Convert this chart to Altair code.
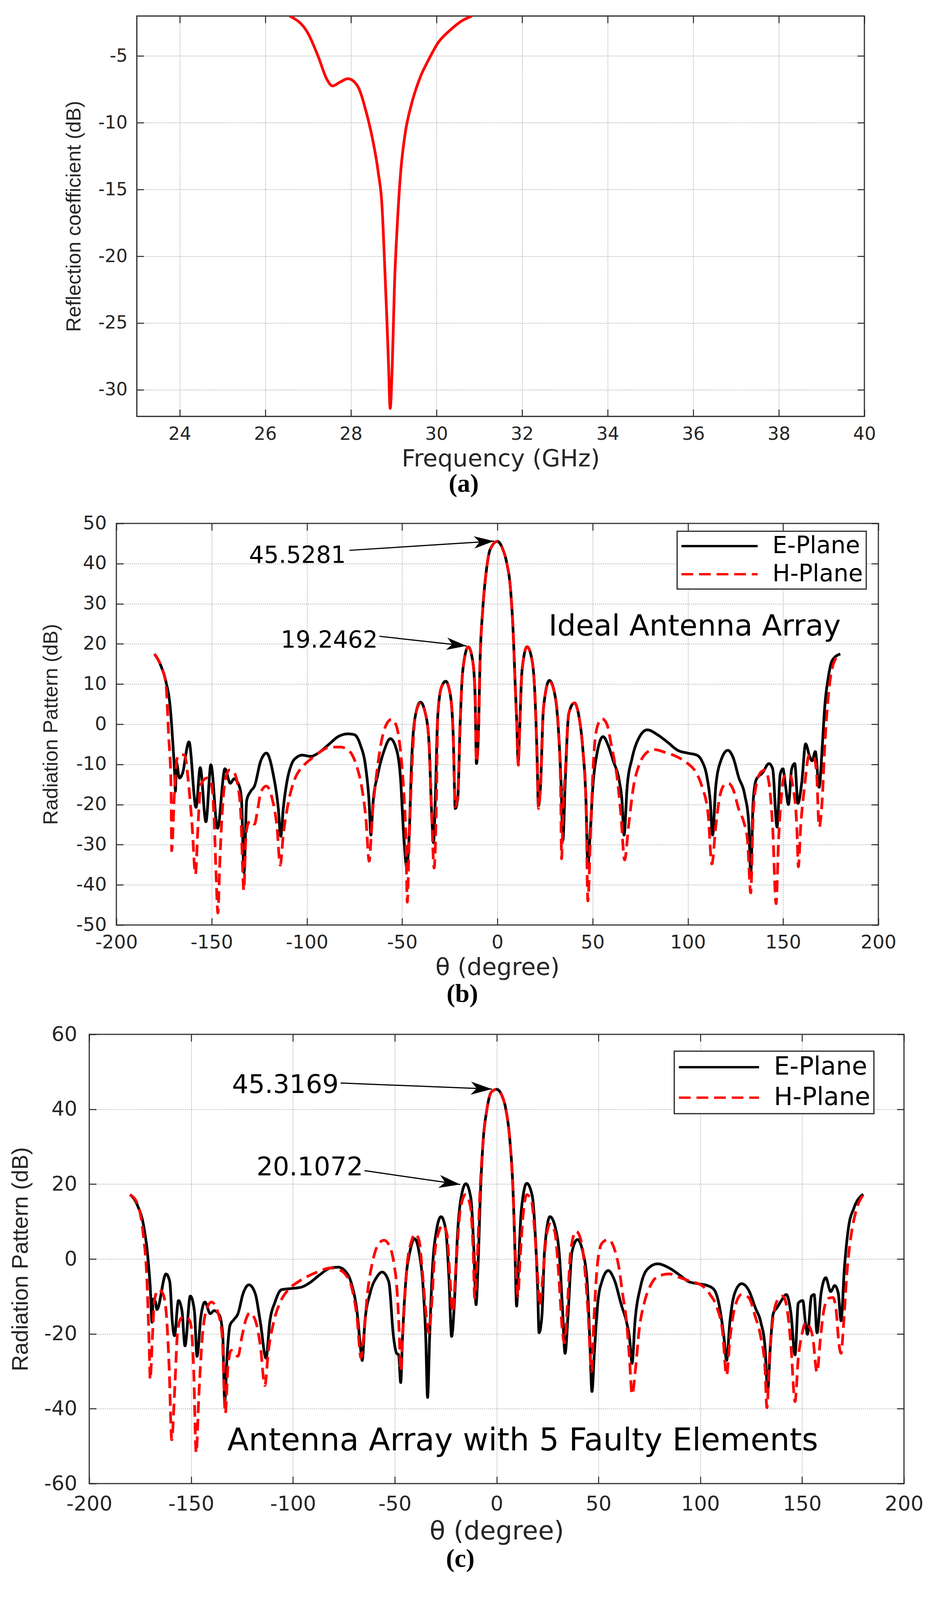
import math
import altair as alt
import pandas as pd

# ---------------- (a) reflection coefficient ----------------
A_FREQ = [26.57, 27.0, 27.24, 27.45, 27.57, 27.75, 27.93, 28.15, 28.36, 28.5, 28.64, 28.73,
          28.78, 28.84, 28.88, 28.92, 28.97, 29.02, 29.09, 29.16, 29.27, 29.41, 29.62, 29.83,
          30.04, 30.32, 30.6, 30.83]
A_S11 = [-2.0, -3.3, -5.05, -6.8, -7.24, -6.95, -6.7, -7.2, -9.2, -11.1, -13.7, -16.3,
         -19.8, -24.5, -28.0, -31.4, -28.0, -22.2, -17.4, -13.9, -10.8, -8.7, -6.6, -5.2,
         -4.0, -3.06, -2.35, -2.0]
A_XDOM = [23, 40]
A_YDOM = [-32, -2]
A_XTICKS = [24, 26, 28, 30, 32, 34, 36, 38, 40]
A_YTICKS = [-30, -25, -20, -15, -10, -5]

# ---------------- (b) ideal antenna array ----------------
B_E = [(-180, 17.5), (-176.6, 14.5), (-174, 10.6), (-171.7, 4.0), (-170.4, -4.5), (-169.4, -12.4),
       (-169, -16.7), (-168.5, -9.5), (-166.9, -13.4), (-165.4, -12.4), (-161.9, -4.4), (-158.2, -20.7),
       (-156, -10.8), (-153, -24.3), (-150.4, -10.1), (-146.9, -25.9), (-143, -11.1), (-140.2, -14.7),
       (-138.2, -13.6), (-135.3, -15.7), (-134.3, -19), (-133.0, -37), (-131.6, -19), (-129.5, -16.7),
       (-127.5, -15.4), (-124.2, -9.1), (-121.2, -7.2), (-117.7, -12.4), (-115, -21), (-113.7, -27.9),
       (-112.4, -21), (-110.5, -14.4), (-107.9, -9.8), (-105.2, -8.2), (-102.6, -7.7), (-98, -8.0),
       (-94.1, -7.2), (-88.9, -5.2), (-83.6, -3.1), (-78.4, -2.4), (-75.1, -2.6), (-71.9, -5.2),
       (-69.2, -10.5), (-67.3, -19.7), (-66.4, -27.6), (-65.3, -19.7), (-62.7, -12.4), (-59.4, -6.5),
       (-56.2, -3.6), (-53.5, -5.5), (-50.9, -13.1), (-49.3, -26.6), (-47.6, -35.5), (-46.3, -27.6),
       (-45, -9.1), (-43.1, 2.0), (-40.4, 5.5), (-37.8, 2.7), (-35.9, -4.5), (-34.6, -21), (-33.5, -29.5),
       (-32.6, -19), (-31.3, 2.0), (-29.3, 9.3), (-27.1, 10.7), (-24.7, 7.3), (-23.2, -2.6), (-22.1, -21),
       (-20.8, -18.4), (-19.5, 0.7), (-18.2, 13.2), (-15.3, 19.25), (-13, 15.9), (-11.7, 7.3), (-11, -9.8),
       (-10.1, -4.5), (-9, 17.2), (-7.7, 28.4), (-5.8, 38.2), (-3.8, 43.5), (0, 45.53),
       (2.9, 43.5), (4.9, 40.2), (6.9, 33.6), (8.2, 23.8), (9.3, 10.6), (10.2, 0), (10.9, -9.5),
       (11.6, -2.6), (12.9, 13.2), (15.6, 19.3), (18.2, 15.9), (19.5, 9.3), (20.9, -9.1), (21.5, -20.3),
       (22.6, -15.7), (24.2, 4.0), (27.3, 10.9), (30.2, 7.3), (32.2, -2.6), (33.5, -15.7), (34.4, -28.9),
       (35.5, -15.7), (37.5, 2.7), (40.4, 5.3), (42.8, 2.0), (44.8, -5.9), (46.5, -19), (47.5, -35.5),
       (48.8, -26.3), (50.1, -15.7), (52.1, -7.8), (55.5, -3.1), (58.1, -5.2), (60.8, -9.1), (64.1, -14.4),
       (65.4, -19), (66.5, -27.6), (68.1, -15.7), (70.7, -8.5), (74.1, -3.6), (78.7, -1.4), (84, -2.6),
       (89.4, -4.5), (94.7, -6.5), (100, -7.2), (104.7, -7.7), (107.3, -9.1), (110, -13.1), (111.7, -19),
       (113, -27.6), (114.6, -15.7), (117.3, -9.1), (121, -6.5), (123.9, -8.5), (126.6, -13.1),
       (129.9, -17.7), (131.9, -24.3), (133, -37), (134.3, -19), (135.9, -13.8), (139.2, -12.1),
       (142.6, -9.8), (144.5, -11.1), (146.8, -25.6), (148.5, -12.4), (149.9, -11.1), (151.2, -15.1),
       (152.8, -20), (154.5, -11.1), (156.1, -9.8), (157.8, -19.7), (159.8, -14.4), (161.8, -4.9),
       (163.8, -7.8), (165.2, -9.1), (166.9, -6.8), (168.9, -15.7), (170.5, -5.9), (171.8, 4.0),
       (173.8, 11.9), (175.8, 15.9), (180, 17.5)]
B_H = [(-180, 17.5), (-176.6, 14.5), (-174, 10), (-172.6, -2.6), (-171.3, -15.7), (-171, -31.5),
       (-169.4, -15.7), (-168.1, -8.5), (-166.1, -7.5), (-164.1, -7.8), (-162.2, -14.4), (-160.2, -25.6),
       (-158.5, -37.4), (-157.2, -25.6), (-155.9, -15.7), (-154.6, -14.1), (-152.4, -13.4), (-150.4, -14.4),
       (-148.8, -22.3), (-147.8, -35.5), (-146.7, -47), (-145.8, -35.5), (-144.5, -22.3), (-142.5, -13.1),
       (-140.6, -11.4), (-138.6, -11.8), (-136.6, -14.4), (-134.7, -22.3), (-133.1, -41.4), (-132.1, -28.9),
       (-131, -24.9), (-129.5, -24), (-127.5, -24.9), (-126.2, -22.3), (-124.2, -17), (-121.3, -15.4),
       (-118.3, -18.4), (-115.7, -25.6), (-114, -35.1), (-112.4, -27.6), (-109.8, -19.7), (-106.5, -13.8),
       (-103.3, -11.1), (-100, -9.5), (-96.7, -8.2), (-92.8, -6.8), (-87.6, -5.7), (-82.3, -5.7),
       (-79.1, -6.2), (-76.4, -7.5), (-73.8, -10.5), (-71.2, -15.7), (-69, -23.6), (-67.3, -34.1),
       (-65.6, -22.3), (-63.4, -12.4), (-60.7, -3.9), (-58.1, 0.1), (-55.5, 1.25), (-52.9, -0.6),
       (-50.9, -6.5), (-49.3, -15.7), (-48, -28.9), (-47.3, -44.3), (-46.3, -28.9), (-45, -12.4),
       (-43.1, 2.0), (-40.4, 5.3), (-37.8, 2.7), (-35.9, -4.5), (-34.6, -21), (-33.2, -35.8), (-32, -19),
       (-31.3, 2.0), (-29.3, 9.3), (-27.1, 10.5), (-24.7, 7.3), (-23.2, -2.6), (-22.1, -20.5),
       (-20.8, -17.5), (-19.5, 0.7), (-18.2, 13.2), (-15.3, 19.25), (-13, 15.9), (-11.7, 7.3), (-11, -9.5),
       (-10.1, -4.5), (-9, 17.2), (-7.7, 28.4), (-5.8, 38.2), (-3.8, 43.5), (0, 45.53),
       (2.9, 43.5), (4.9, 40.2), (6.9, 33.6), (8.2, 23.8), (9.3, 10.6), (10.2, 0), (11.0, -10.2),
       (11.6, -2.6), (12.9, 13.2), (15.6, 19.3), (18.2, 15.9), (19.5, 9.3), (20.9, -9.1), (21.6, -21),
       (22.6, -15.7), (24.2, 4.0), (27.3, 10.7), (30.2, 7.3), (32.2, -2.6), (33.2, -15.7), (33.7, -33.5),
       (34.6, -20), (35.5, -13), (37.5, 2.7), (40.4, 5.3), (42.8, 2.0), (44.8, -5.9), (46.5, -19),
       (47.5, -44), (48.8, -28.9), (50.1, -12.4), (52.1, -1.25), (54.8, 1.4), (57.4, 0.1), (60.1, -5.9),
       (62.8, -13.1), (64.8, -22.3), (66.8, -33.8), (68.8, -25.6), (71.4, -15.7), (74.7, -9.8),
       (78.1, -7.2), (82, -6.3), (88, -7.0), (94.7, -8.2), (100, -9.8), (104, -11.8), (107.3, -15.4),
       (110.6, -22.3), (112.6, -34.8), (114.6, -25.6), (116.6, -18.4), (118.6, -15.4), (121.3, -14.7),
       (123.9, -16.4), (126.6, -21), (129.3, -24.3), (131.3, -28.9), (133, -42), (134.3, -22.3),
       (135.9, -15.1), (138.6, -11.8), (140.6, -11.4), (142.6, -14.7), (144.5, -25.6), (146.3, -44.7),
       (147.6, -28.9), (149, -18.4), (150.5, -13.1), (153.2, -12.4), (155.2, -15.7), (157.2, -25.6),
       (158, -35.5), (159.2, -25.6), (161.2, -15.7), (163.6, -7.8), (165.9, -7.8), (167.6, -12.4),
       (168.9, -25.6), (170.5, -19), (171.8, -5.9), (173.8, 7.3), (176.5, 15.2), (180, 17.5)]
B_XDOM = [-200, 200]
B_YDOM = [-50, 50]
B_XTICKS = [-200, -150, -100, -50, 0, 50, 100, 150, 200]
B_YTICKS = [-50, -40, -30, -20, -10, 0, 10, 20, 30, 40, 50]
B_NOTES = [("45.5281", -130.4, 40.2), ("19.2462", -113.7, 19.1)]
B_ARROWS = [(-77.7, 43.3, -1.8, 45.6), (-62.0, 21.9, -16.2, 19.5)]
B_LABEL = ("Ideal Antenna Array", 26.9, 22.1)

# ---------------- (c) array with 5 faulty elements ----------------
C_E = [(-180, 17.2), (-176.4, 14.4), (-173.1, 8.2), (-171.2, 0.3), (-169.9, -9.1), (-169.2, -16.9),
       (-168.6, -10.7), (-167.5, -11.5), (-166.8, -13.5), (-162.3, -4.0), (-160.5, -6.0), (-159.2, -16.9),
       (-158.2, -20.5), (-156.2, -11.1), (-154.5, -13.8), (-153, -23.2), (-150.4, -9.9), (-148.4, -13.8),
       (-147.1, -26), (-145.2, -15.4), (-143.2, -11.5), (-140.6, -14.6), (-138.7, -13.8), (-136.1, -15),
       (-134.5, -20.1), (-133.5, -38), (-132.2, -24.8), (-130.9, -17.7), (-129, -16.2), (-127, -14.6),
       (-124.4, -9.1), (-121.6, -6.9), (-118.6, -9.1), (-116, -16.9), (-113.2, -26.5), (-111.4, -16.9),
       (-108.8, -11.5), (-105.6, -8.2), (-101, -7.9), (-95.8, -7.5), (-91.9, -6.4), (-86.8, -4.2),
       (-81.6, -2.4), (-77.7, -2.2), (-74.4, -3.2), (-71.2, -6.7), (-68.6, -13.8), (-66.6, -24.8),
       (-66, -27.1), (-64.7, -16.9), (-62.1, -9.1), (-58.8, -4.8), (-56.2, -3.5), (-53, -6), (-50.6, -20.9),
       (-49.1, -25.2), (-48.1, -25.6), (-47.1, -33), (-46.2, -20.9), (-44.5, -5.2), (-42.6, 1.9),
       (-40.3, 5.4), (-38.1, 1.9), (-36.1, -7.5), (-34.8, -20.9), (-33.9, -37), (-32.9, -20.9),
       (-31.6, -3.6), (-29.6, 7.4), (-27.3, 11.3), (-25.1, 8.2), (-23.4, -5.2), (-22.1, -20.7),
       (-20.5, -9.1), (-19.2, 6.6), (-17.3, 16.8), (-15.1, 20.1), (-12.7, 16.4), (-11.2, 2.7),
       (-10.1, -12.2), (-9.1, -1.3), (-7.9, 18.4), (-6.6, 31.7), (-4.9, 39.5), (-2.6, 44.6), (0, 45.32),
       (2.7, 43.5), (4.7, 39.5), (6.5, 31.7), (8.1, 17.6), (9.1, 0.3), (9.8, -12.6), (10.8, -1.3),
       (12.1, 12.9), (14.8, 20.2), (17.5, 16.8), (18.8, 8.2), (20.2, -9.1), (20.8, -19.7), (22.2, -15.4),
       (23.5, 1.9), (26.2, 11.3), (28.9, 8.2), (30.9, 0.3), (32.3, -13), (33.6, -25.2), (35, -15.4),
       (37, 1.9), (39.7, 5.2), (42.3, 1.9), (44.4, -6), (45.7, -20.9), (46.8, -35.4), (48, -24.8),
       (49.7, -11.5), (51.7, -6), (54.8, -3.1), (57.8, -5.6), (61.2, -12.2), (63.8, -16.9), (65.2, -20.9),
       (66.5, -27.9), (67.9, -16.9), (70.6, -7.5), (73.9, -2.8), (79, -1.3), (84.7, -2.4), (90.1, -4.4),
       (94.1, -6.0), (98.8, -6.6), (103.5, -7.1), (106.9, -8.3), (109.5, -13), (111.6, -20.9),
       (112.9, -27.1), (114.5, -16.9), (116.9, -9.1), (120.3, -6.6), (123.7, -8.3), (127, -13),
       (129.7, -16.9), (131.7, -23.2), (133.1, -35), (134.4, -23.2), (135.8, -14.6), (137.8, -12.9),
       (139.8, -11.1), (142.2, -9.5), (144.5, -14.6), (146.5, -25.6), (148.1, -11.8), (150.3, -11.1),
       (151.6, -16.9), (152.6, -20.1), (154.6, -9.9), (155.9, -9.5), (157.3, -19.7), (159.3, -9.1),
       (161.6, -5), (164, -8.7), (166, -7.1), (167.7, -9.1), (169.1, -16.5), (170.7, -2.8), (172.7, 8.2),
       (175.4, 13.6), (180, 17.3)]
C_H = [(-180, 17.2), (-176.4, 14.8), (-173.5, 6.6), (-171.8, -4.4), (-170.5, -24.8), (-170.1, -32.2),
       (-169, -20.9), (-167.9, -10.7), (-166, -8.2), (-164, -9.1), (-162.3, -13.8), (-160.8, -28.7),
       (-159.5, -48.3), (-158.2, -36.5), (-156.6, -19.3), (-154.9, -15.8), (-152.7, -15.4), (-150.4, -16.9),
       (-148.8, -28.7), (-147.5, -51.8), (-146.2, -36.5), (-144.5, -20.9), (-142.6, -13.8), (-140, -11.5),
       (-137.4, -13.4), (-134.8, -20.1), (-133.2, -41.3), (-131.9, -28.7), (-130.3, -24.4), (-128.3, -25.6),
       (-127, -26), (-125.1, -20.9), (-123.1, -16.2), (-121.2, -14.4), (-118.6, -16.2), (-116, -23.2),
       (-113.8, -33.8), (-112.1, -24.8), (-109.5, -16.9), (-106.2, -11.5), (-102.3, -8.2), (-97.1, -6.0),
       (-91.9, -4.4), (-86.8, -3.2), (-81.6, -2.4), (-77.7, -2.8), (-74.4, -4.0), (-71.2, -7.5),
       (-68.6, -15.4), (-66.6, -26.4), (-65.3, -20.9), (-63.4, -9.1), (-60.8, -0.5), (-58.2, 3.8),
       (-55.3, 5.0), (-52.3, 3.1), (-50.4, -1.3), (-48.8, -9.1), (-47.8, -20.1), (-47.1, -30),
       (-45.8, -16.9), (-43.9, -1.3), (-41.9, 4.6), (-40, 6.7), (-38.1, 5.0), (-36.8, -1.3), (-34.8, -13.8),
       (-33.2, -19.7), (-32, -13), (-30.3, 1.9), (-28.3, 7.4), (-26.4, 9.1), (-24.4, 6.6), (-22.9, -5.2),
       (-21.6, -14.2), (-19.9, -1.3), (-17.9, 12.9), (-15.3, 17.2), (-13, 14.4), (-11.4, 0.3),
       (-10.8, -10.3), (-9.5, 0.3), (-8.2, 17.6), (-6.6, 31.7), (-4.9, 39.5), (-2.6, 44.6), (0, 45.32),
       (2.7, 43.5), (4.7, 39.5), (6.5, 31.7), (8.1, 17.6), (9.4, -1.3), (10.5, -9.9), (11.4, -1.3),
       (12.8, 10.5), (14.8, 17.2), (17.2, 15.2), (18.8, 6.6), (20.2, -5.2), (21.0, -12.5), (22.6, -5.2),
       (24.2, 5), (26.2, 9.3), (28.5, 7.4), (30.6, -5.2), (32.3, -19.3), (33.3, -22.4), (34.7, -13),
       (36.3, 1.9), (39, 7.4), (41.4, 5.0), (43.7, -5.2), (45, -15.4), (46.6, -30), (47.7, -16.9),
       (49.5, -1.3), (51.7, 4.2), (54.8, 5.2), (57.8, 2.7), (60.2, -2.8), (61.8, -9.1), (63.8, -16.9),
       (65.2, -26.4), (66.5, -36.2), (68.3, -28.7), (69.9, -19.3), (72.6, -11.5), (75.9, -6.7),
       (79.3, -4.6), (84.7, -4), (90.1, -5), (95.4, -6), (100.8, -7.1), (104.8, -9.5), (108.2, -13),
       (110.9, -19.3), (112.9, -31.1), (114.5, -21.6), (116.9, -13), (120.3, -9.5), (123.7, -10.3),
       (127, -15.4), (129.7, -20.9), (131.7, -28.7), (132.7, -39.7), (134.1, -24.8), (135.8, -15.4),
       (137.8, -11.1), (140.5, -9.9), (142.5, -13), (144.5, -23.2), (146.5, -38.1), (148.1, -26.4),
       (149.9, -20.1), (151.9, -16.9), (153.2, -17.7), (155.2, -20.9), (157.3, -30.3), (158.9, -21.6),
       (160.6, -13.8), (162.9, -10.5), (165.1, -10.3), (166.7, -13.8), (168, -22.4), (169.1, -25.2),
       (170.4, -16.9), (172, -3.6), (174.1, 6.6), (176.1, 12.1), (180, 17.2)]
C_XDOM = [-200, 200]
C_YDOM = [-60, 60]
C_XTICKS = [-200, -150, -100, -50, 0, 50, 100, 150, 200]
C_YTICKS = [-60, -40, -20, 0, 20, 40, 60]
C_NOTES = [("45.3169", -129.9, 44.4), ("20.1072", -117.9, 22.3)]
C_ARROWS = [(-76.6, 47.0, -2.3, 45.4), (-64.9, 23.6, -17.9, 19.9)]
C_LABEL = ("Antenna Array with 5 Faulty Elements", -132.2, -51.1)

PLANES = ["E-Plane", "H-Plane"]
PLANE_COLORS = ["#000000", "#ff0000"]
PLANE_DASH = [[1, 0], [30, 15]]

# ---------------- style ----------------
INK = "#262626"
SANS = "DejaVu Sans"
YFONT = "Liberation Sans"
SERIF = "Liberation Serif"
TICK_IN = 18
ARROW_PATH = "M0,0L-2,-0.62L-1.45,0L-2,0.62Z"


def main_axes(xvals, yvals, tfs, xtitle, ytitle, xtfs, ytfs, xlp, ylp, xtp, ytp):
    common = dict(grid=True, gridColor="#808080", gridDash=[2, 3], gridWidth=1.5, domain=False,
                  tickSize={"expr": str(-TICK_IN)}, tickWidth=2.5, tickColor=INK,
                  labelFont=SANS, labelFontSize=tfs, labelColor=INK, labelFlush=False,
                  labelOverlap=False, labelExpr="'' + datum.value",
                  titleFontWeight="normal", titleColor=INK)
    ax = alt.Axis(values=xvals, title=xtitle, orient="bottom", labelPadding=xlp, titleFont=SANS,
                  titleFontSize=xtfs, titlePadding=xtp, **common)
    ay = alt.Axis(values=yvals, title=ytitle, orient="left", labelPadding=ylp, titleFont=YFONT,
                  titleFontSize=ytfs, titlePadding=ytp, **common)
    return ax, ay


def frame_layer(xdom, ydom, xvals, yvals, xs, ys):
    common = dict(labels=False, title=None, grid=False, domain=False,
                  tickSize={"expr": str(-TICK_IN)}, tickWidth=2.5, tickColor=INK)
    df = pd.DataFrame({"x": xdom, "y": ydom})
    return alt.Chart(df).mark_point(opacity=0).encode(
        x=alt.X("x:Q", scale=xs, axis=alt.Axis(values=xvals, orient="top", **common)),
        y=alt.Y("y:Q", scale=ys, axis=alt.Axis(values=yvals, orient="right", **common)),
    )


def caption(txt, off):
    return alt.TitleParams(text=txt, orient="bottom", font=SERIF, fontSize=66, fontWeight="bold",
                           color="black", offset=off, anchor="middle", frame="bounds", dx=-16)


def radiation_panel(E, H, xdom, ydom, xvals, yvals, notes, arrows, label, W, H_px, sizes, legpos, cap, capoff):
    (tfs, xtfs, ytfs, nfs, lfs, legfs, xlp, ylp, xtp, ytp, head,
     legsym, legoff, legrow, legpad) = sizes
    xs = alt.Scale(domain=xdom, nice=False, zero=False)
    ys = alt.Scale(domain=ydom, nice=False, zero=False)
    ax, ay = main_axes(xvals, yvals, tfs, "θ (degree)", "Radiation Pattern (dB)", xtfs, ytfs,
                       xlp, ylp, xtp, ytp)

    rows = [dict(theta=t, db=d, plane=PLANES[0]) for t, d in E] + \
           [dict(theta=t, db=d, plane=PLANES[1]) for t, d in H]
    df = pd.DataFrame(rows)
    leg = alt.Legend(title=None, orient="none", legendX=legpos[0], legendY=legpos[1], symbolType="stroke",
                     symbolSize=legsym ** 2, symbolStrokeWidth=6, clipHeight=legfs,
                     labelFont=SANS, labelFontSize=legfs, labelLimit=800,
                     labelColor="black", labelOffset=legoff, rowPadding=legrow, padding=legpad,
                     strokeColor=INK, fillColor="white")
    lines = alt.Chart(df).mark_line(strokeWidth=7, interpolate="monotone", clip=True, strokeCap="butt").encode(
        x=alt.X("theta:Q", scale=xs, axis=ax),
        y=alt.Y("db:Q", scale=ys, axis=ay),
        color=alt.Color("plane:N", scale=alt.Scale(domain=PLANES, range=PLANE_COLORS), legend=leg),
        strokeDash=alt.StrokeDash("plane:N", scale=alt.Scale(domain=PLANES, range=PLANE_DASH), legend=leg),
    )

    px = W / (xdom[1] - xdom[0])
    py = H_px / (ydom[1] - ydom[0])
    arows = []
    for x1, y1, x2, y2 in arrows:
        ang = math.degrees(math.atan2(-(y2 - y1) * py, (x2 - x1) * px)) % 360
        arows.append(dict(x1=x1, y1=y1, x2=x2, y2=y2, ang=ang))
    adf = pd.DataFrame(arows)
    shafts = alt.Chart(adf).mark_rule(color="black", strokeWidth=3).encode(
        x=alt.X("x1:Q", scale=xs, axis=None), y=alt.Y("y1:Q", scale=ys, axis=None),
        x2="x2:Q", y2="y2:Q")
    heads = alt.Chart(adf).mark_point(shape=ARROW_PATH, filled=True, color="black", opacity=1,
                                      size=head, strokeWidth=0).encode(
        x=alt.X("x2:Q", scale=xs, axis=None), y=alt.Y("y2:Q", scale=ys, axis=None),
        angle=alt.Angle("ang:Q", scale=None))

    ndf = pd.DataFrame([dict(label=t, x=x, y=y) for t, x, y in notes])
    ntext = alt.Chart(ndf).mark_text(align="left", baseline="alphabetic", font=SANS, fontSize=nfs,
                                     color="black").encode(
        x=alt.X("x:Q", scale=xs, axis=None), y=alt.Y("y:Q", scale=ys, axis=None), text="label:N")
    ldf = pd.DataFrame([dict(label=label[0], x=label[1], y=label[2])])
    ltext = alt.Chart(ldf).mark_text(align="left", baseline="alphabetic", font=SANS, fontSize=lfs,
                                     color="black").encode(
        x=alt.X("x:Q", scale=xs, axis=None), y=alt.Y("y:Q", scale=ys, axis=None), text="label:N")

    fr = frame_layer(xdom, ydom, xvals, yvals, xs, ys)
    return alt.layer(lines, shafts, heads, ntext, ltext, fr).resolve_axis(
        x="independent", y="independent").properties(width=W, height=H_px, title=caption(cap, capoff))


# ---------------- panel (a) ----------------
A_W, A_H = 1862, 1025
axs = alt.Scale(domain=A_XDOM, nice=False, zero=False)
ays = alt.Scale(domain=A_YDOM, nice=False, zero=False)
a_ax, a_ay = main_axes(A_XTICKS, A_YTICKS, 46, "Frequency (GHz)", "Reflection coefficient (dB)",
                       61, 52, 41, 42, 11, 34)
a_df = pd.DataFrame({"f": A_FREQ, "s11": A_S11})
a_line = alt.Chart(a_df).mark_line(color="#ff0000", strokeWidth=7, interpolate="monotone", clip=True).encode(
    x=alt.X("f:Q", scale=axs, axis=a_ax), y=alt.Y("s11:Q", scale=ays, axis=a_ay))
panel_a = alt.layer(a_line, frame_layer(A_XDOM, A_YDOM, A_XTICKS, A_YTICKS, axs, ays)).resolve_axis(
    x="independent", y="independent").properties(width=A_W, height=A_H, title=caption("(a)", 2))

# ---------------- panel (b) ----------------
panel_b = radiation_panel(B_E, B_H, B_XDOM, B_YDOM, B_XTICKS, B_YTICKS, B_NOTES, B_ARROWS, B_LABEL,
                          1950, 1028,
                          (48, 61, 52, 60, 75, 60, 39, 43, 10, 37, 2601, 195, 35, 12, 8),
                          (1435, 20), "(b)", 6)

# ---------------- panel (c) ----------------
panel_c = radiation_panel(C_E, C_H, C_XDOM, C_YDOM, C_XTICKS, C_YTICKS, C_NOTES, C_ARROWS, C_LABEL,
                          2085, 1150,
                          (52, 66, 58, 66, 80, 64, 45, 49, 12, 30, 2916, 205, 35, 14, 9),
                          (1497, 43), "(c)", 6)

chart = alt.vconcat(panel_a, panel_b, panel_c, spacing=40, center=True).resolve_scale(
    color="independent", strokeDash="independent").properties(
    padding={"left": 15, "top": 28, "right": 10, "bottom": 10}, background="white"
).configure_view(stroke=INK, strokeWidth=3).configure_legend(strokeWidth=3)

chart.save("out.html", embed_options={"renderer": "svg", "actions": False})
